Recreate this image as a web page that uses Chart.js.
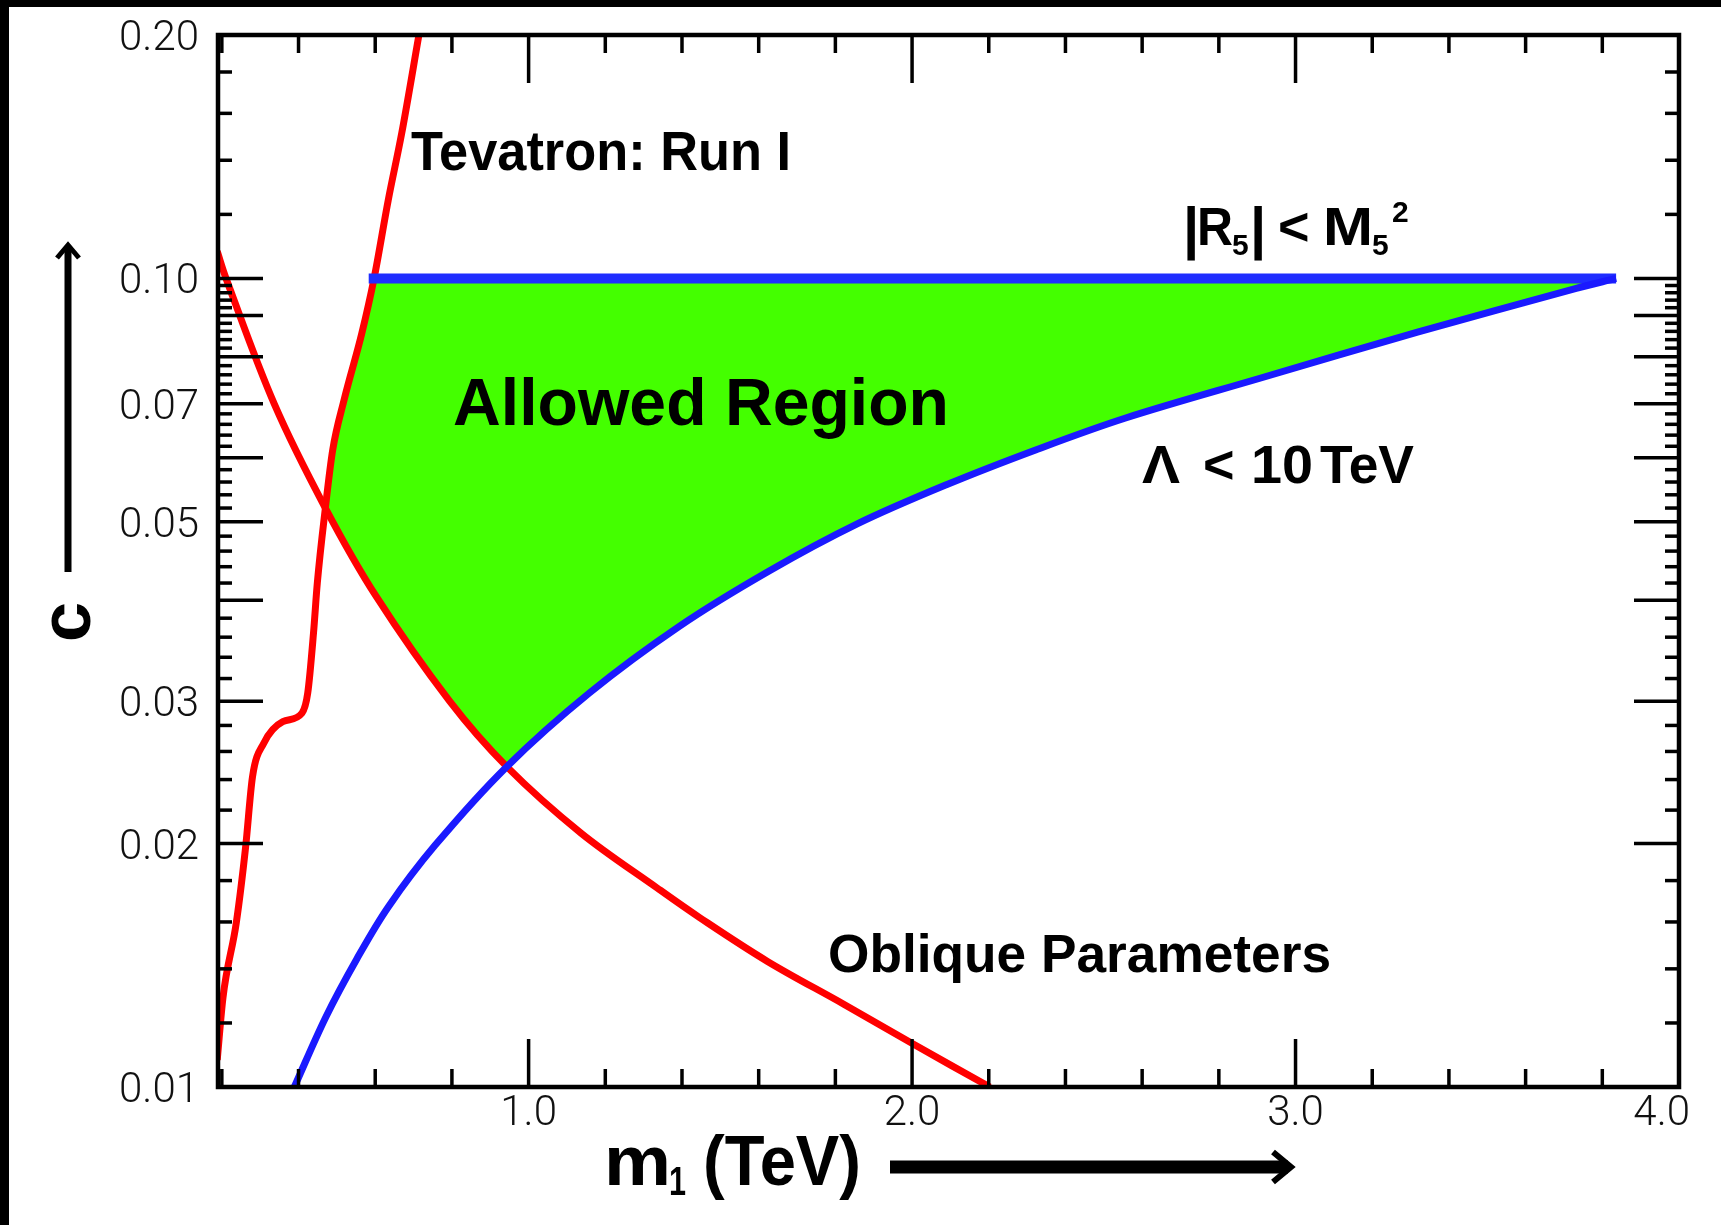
<!DOCTYPE html>
<html>
<head>
<meta charset="utf-8">
<script src="https://cdn.jsdelivr.net/npm/chart.js@4.4.1/dist/chart.umd.min.js"></script>
<style>
html,body{margin:0;padding:0;background:#fff;overflow:hidden}
#wrap{position:absolute;left:0;top:0;width:1721px;height:1225px}
</style>
</head>
<body>
<div id="wrap"><canvas id="c" width="1721" height="1225"></canvas></div>
<script>
// ---------------- data ----------------
// Tevatron: Run I bound (red)
const tevatronX = [0.188, 0.203, 0.238, 0.262, 0.280, 0.309, 0.359, 0.409, 0.424, 0.439, 0.449, 0.470, 0.489, 0.519, 0.565, 0.597, 0.634, 0.669, 0.714];
const tevatronY = [0.0108, 0.0129, 0.0160, 0.0198, 0.0242, 0.0266, 0.0283, 0.0290, 0.0307, 0.0364, 0.0420, 0.0520, 0.0613, 0.0708, 0.0855, 0.1000, 0.1250, 0.1511, 0.2000];
// Oblique parameters bound (red)
const obliqueX = [0.188, 0.211, 0.337, 0.470, 0.603, 0.794, 0.943, 1.137, 1.337, 1.446, 1.623, 1.823, 2.003, 2.203];
const obliqueY = [0.1080, 0.1000, 0.0699, 0.0520, 0.0404, 0.0300, 0.0249, 0.0206, 0.0176, 0.0162, 0.0143, 0.01265, 0.0113, 0.0100];
// Lambda < 10 TeV bound (blue curve)
const lambdaX = [0.389, 0.471, 0.552, 0.634, 0.756, 0.943, 1.158, 1.392, 1.625, 1.857, 2.091, 2.324, 2.557, 2.905, 3.318, 3.732, 3.836];
const lambdaY = [0.0100, 0.0122, 0.0144, 0.0167, 0.0199, 0.0249, 0.0307, 0.0371, 0.0434, 0.0497, 0.0556, 0.0614, 0.0672, 0.0752, 0.0858, 0.0972, 0.1000];
// |R5| < M5^2 bound (blue horizontal)
const rsX = [0.583, 3.836];
const rsY = [0.1, 0.1];
// corners of the allowed region
const tevObliqueCross = {x: 0.470, y: 0.0520};
const obliqueLambdaCross = {x: 0.943, y: 0.0249};
const allowedTopY = 0.1;

// axes
const X_MIN = 0.19, X_MAX = 4.0, Y_MIN = 0.01, Y_MAX = 0.2;
const xTickValues = [1.0, 2.0, 3.0, 4.0];
const xTickLabels = ['1.0', '2.0', '3.0', '4.0'];
const yTickValues = [0.01, 0.02, 0.03, 0.05, 0.07, 0.10, 0.20];
const yTickLabels = ['0.01', '0.02', '0.03', '0.05', '0.07', '0.10', '0.20'];
const xMajorTicks = [1, 2, 3];
const xMinorTicks = [0.2, 0.4, 0.6, 0.8, 1.2, 1.4, 1.6, 1.8, 2.2, 2.4, 2.6, 2.8, 3.2, 3.4, 3.6, 3.8];
const yMajorTicks = [0.02, 0.03, 0.04, 0.05, 0.06, 0.07, 0.08, 0.09, 0.10];
const yMinorTicks = [];
for (let k = 10; k < 100; k += 2) { if (k % 10 !== 0) yMinorTicks.push(k / 1000); }
[0.12, 0.14, 0.16, 0.18].forEach(v => yMinorTicks.push(v));

// ---------------- build point lists ----------------
const pts = (xs, ys) => xs.map((x, i) => ({x: x, y: ys[i]}));
const tevPts = pts(tevatronX, tevatronY);
const oblPts = pts(obliqueX, obliqueY);
const lamPts = pts(lambdaX, lambdaY);
const rsPts = pts(rsX, rsY);
const allowedPts = [].concat(
  tevPts.filter(p => p.y >= tevObliqueCross.y && p.y <= allowedTopY).reverse(),
  oblPts.filter(p => p.x > tevObliqueCross.x && p.x <= obliqueLambdaCross.x),
  lamPts.filter(p => p.x > obliqueLambdaCross.x)
);
allowedPts.push(allowedPts[0]);

// ---------------- decorations plugin ----------------
const LABEL_FONT = '"Liberation Sans", Arial, sans-serif';
function fitText(c, txt, x, yb, size, w) {
  c.font = 'bold ' + size + 'px ' + LABEL_FONT;
  const m = c.measureText(txt).width;
  c.save();
  c.translate(x, yb);
  c.scale(w ? w / m : 1, 1);
  c.textAlign = 'left';
  c.textBaseline = 'alphabetic';
  c.fillText(txt, 0, 0);
  c.restore();
}

const deco = {
  id: 'deco',
  beforeDraw(chart) {
    const c = chart.ctx;
    c.save();
    c.fillStyle = '#fff';
    c.fillRect(0, 0, chart.width, chart.height);
    c.fillStyle = '#000';
    c.fillRect(0, 0, chart.width, 7);
    c.fillRect(0, 0, 9, chart.height);
    c.restore();
  },
  afterDatasetsDraw(chart) {
    const c = chart.ctx, a = chart.chartArea, xs = chart.scales.x, ys = chart.scales.y;
    c.save();
    c.strokeStyle = '#000';
    c.lineCap = 'butt';
    c.lineWidth = 3.5;
    const seg = (x1, y1, x2, y2) => { c.beginPath(); c.moveTo(x1, y1); c.lineTo(x2, y2); c.stroke(); };
    xMinorTicks.forEach(v => { const p = xs.getPixelForValue(v); seg(p, a.bottom, p, a.bottom - 18); seg(p, a.top, p, a.top + 18); });
    xMajorTicks.forEach(v => { const p = xs.getPixelForValue(v); seg(p, a.bottom, p, a.bottom - 48); seg(p, a.top, p, a.top + 48); });
    yMinorTicks.forEach(v => { const p = ys.getPixelForValue(v); seg(a.left, p, a.left + 14, p); seg(a.right, p, a.right - 14, p); });
    yMajorTicks.forEach(v => { const p = ys.getPixelForValue(v); seg(a.left, p, a.left + 45, p); seg(a.right, p, a.right - 45, p); });
    // frame
    c.lineWidth = 4.5;
    c.strokeRect(a.left, a.top, a.right - a.left, a.bottom - a.top);

    // tick labels
    c.fillStyle = '#111';
    c.font = '300 42px Roboto, "Liberation Sans", sans-serif';
    c.textBaseline = 'alphabetic';
    c.textAlign = 'right';
    yTickValues.forEach((v, i) => c.fillText(yTickLabels[i], a.left - 19, ys.getPixelForValue(v) + 15));
    c.textAlign = 'center';
    xTickValues.forEach((v, i) => {
      let p = xs.getPixelForValue(v);
      const w = c.measureText(xTickLabels[i]).width;
      if (p + w / 2 > a.right + 11) p = a.right + 11 - w / 2;
      c.fillText(xTickLabels[i], p, a.bottom + 38);
    });

    // annotations
    c.fillStyle = '#000';
    fitText(c, 'Tevatron: Run I', 411, 170, 56, 380);
    fitText(c, 'Allowed Region', 453, 425, 66, 496);
    fitText(c, 'Oblique Parameters', 828, 972, 54, 503);
    // |R5| < M5^2
    fitText(c, '|', 1183, 248, 58);
    fitText(c, 'R', 1197, 245, 54, 36);
    fitText(c, '5', 1232, 255, 30);
    fitText(c, '|', 1250, 248, 58);
    fitText(c, '<', 1278, 245, 54);
    fitText(c, 'M', 1323, 245, 54, 50);
    fitText(c, '5', 1372, 255, 30);
    fitText(c, '2', 1392, 222, 30);
    // Lambda < 10 TeV
    fitText(c, 'Λ', 1142, 483, 54, 38);
    fitText(c, '<', 1203, 483, 54);
    fitText(c, '10', 1251, 483, 54, 62);
    fitText(c, 'TeV', 1320, 483, 54, 94);

    // y axis title with arrow
    c.save();
    c.translate(90, 622);
    c.rotate(-Math.PI / 2);
    c.font = 'bold 72px ' + LABEL_FONT;
    c.textAlign = 'center';
    c.fillText('c', 0, 0);
    c.restore();
    c.lineWidth = 7;
    seg(68, 572, 68, 246);
    c.lineWidth = 5;
    c.beginPath(); c.moveTo(57, 258); c.lineTo(68, 245); c.lineTo(79, 258); c.stroke();

    // x axis title with arrow
    fitText(c, 'm', 604, 1185, 70, 67);
    fitText(c, '1', 669, 1195, 40, 17);
    fitText(c, '(TeV)', 703, 1185, 70, 158);
    c.lineWidth = 13;
    seg(890, 1167, 1288, 1167);
    c.lineWidth = 6;
    c.beginPath(); c.moveTo(1273, 1152); c.lineTo(1291, 1167); c.lineTo(1273, 1182); c.stroke();
    c.restore();
  }
};

// ---------------- chart ----------------
new Chart(document.getElementById('c'), {
  type: 'line',
  data: {
    datasets: [
      {label: 'Tevatron: Run I', data: tevPts, borderColor: '#ff0000', borderWidth: 7, pointRadius: 0, fill: false, cubicInterpolationMode: 'monotone', order: 1},
      {label: 'Oblique Parameters', data: oblPts, borderColor: '#ff0000', borderWidth: 7, pointRadius: 0, fill: false, tension: 0.35, order: 1},
      {label: 'Λ < 10 TeV', data: lamPts, borderColor: '#1a1aff', borderWidth: 7, pointRadius: 0, fill: false, tension: 0.35, order: 0},
      {label: '|R5| < M5²', data: rsPts, borderColor: '#1f2dff', borderWidth: 10, pointRadius: 0, fill: false, order: 0},
      {label: 'Allowed Region', data: allowedPts, borderColor: 'rgba(0,0,0,0)', borderWidth: 0, backgroundColor: '#44ff00', pointRadius: 0, fill: 'shape', tension: 0, order: 5}
    ]
  },
  options: {
    responsive: false,
    animation: false,
    devicePixelRatio: 1,
    layout: {padding: {left: 218, right: 42, top: 35, bottom: 138}},
    plugins: {legend: {display: false}, tooltip: {enabled: false}, title: {display: false}},
    scales: {
      x: {type: 'linear', min: X_MIN, max: X_MAX, display: false},
      y: {type: 'logarithmic', min: Y_MIN, max: Y_MAX, display: false}
    }
  },
  plugins: [deco]
});
</script>
</body>
</html>
